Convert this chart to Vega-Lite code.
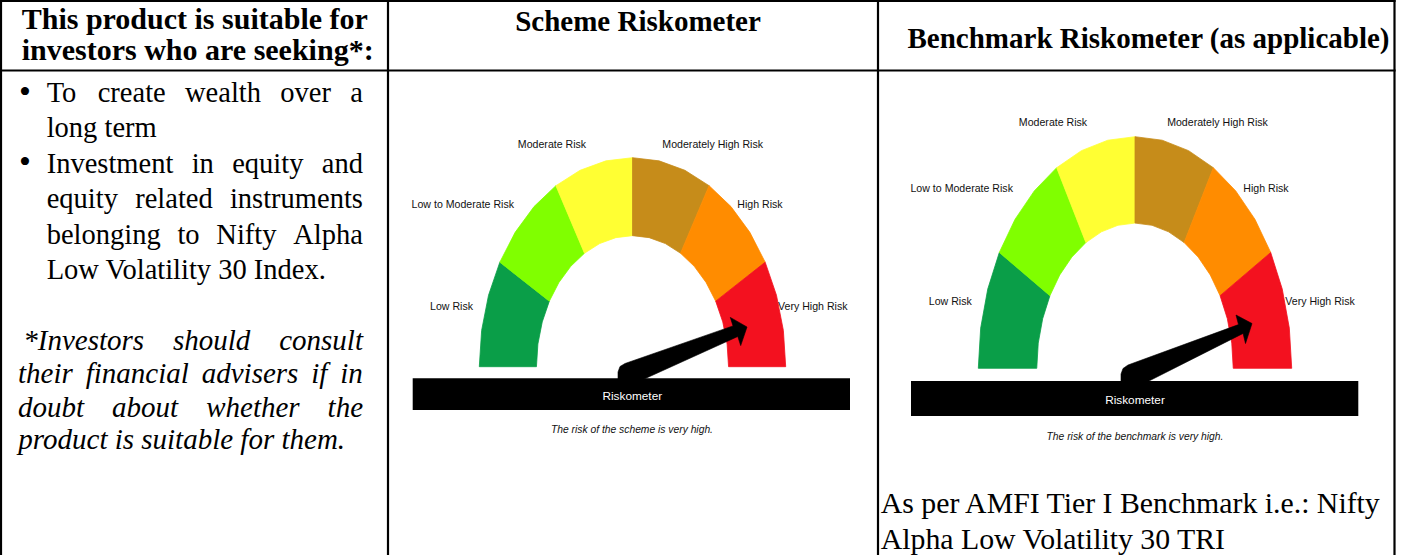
{
  "$schema": "https://vega.github.io/schema/vega-lite/v6.json",
  "width": 1405,
  "height": 555,
  "padding": 0,
  "autosize": {"type": "none"},
  "background": "white",
  "config": {"view": {"stroke": null}},
  "datasets": {
    "arcs": [
      {"seg": "Low", "i": 0, "u": -1, "v": 0},
      {"seg": "Low", "i": 1, "u": -0.9848, "v": 0.1736},
      {"seg": "Low", "i": 2, "u": -0.9397, "v": 0.342},
      {"seg": "Low", "i": 3, "u": -0.866, "v": 0.5},
      {"seg": "Low", "i": 4, "u": -0.543, "v": 0.3135},
      {"seg": "Low", "i": 5, "u": -0.5892, "v": 0.2144},
      {"seg": "Low", "i": 6, "u": -0.6175, "v": 0.1088},
      {"seg": "Low", "i": 7, "u": -0.627, "v": 0},
      {"seg": "Low to Moderate", "i": 0, "u": -0.866, "v": 0.5},
      {"seg": "Low to Moderate", "i": 1, "u": -0.766, "v": 0.6428},
      {"seg": "Low to Moderate", "i": 2, "u": -0.6428, "v": 0.766},
      {"seg": "Low to Moderate", "i": 3, "u": -0.5, "v": 0.866},
      {"seg": "Low to Moderate", "i": 4, "u": -0.3135, "v": 0.543},
      {"seg": "Low to Moderate", "i": 5, "u": -0.403, "v": 0.4803},
      {"seg": "Low to Moderate", "i": 6, "u": -0.4803, "v": 0.403},
      {"seg": "Low to Moderate", "i": 7, "u": -0.543, "v": 0.3135},
      {"seg": "Moderate", "i": 0, "u": -0.5, "v": 0.866},
      {"seg": "Moderate", "i": 1, "u": -0.342, "v": 0.9397},
      {"seg": "Moderate", "i": 2, "u": -0.1736, "v": 0.9848},
      {"seg": "Moderate", "i": 3, "u": 0, "v": 1},
      {"seg": "Moderate", "i": 4, "u": 0, "v": 0.627},
      {"seg": "Moderate", "i": 5, "u": -0.1088, "v": 0.6175},
      {"seg": "Moderate", "i": 6, "u": -0.2144, "v": 0.5892},
      {"seg": "Moderate", "i": 7, "u": -0.3135, "v": 0.543},
      {"seg": "Moderately High", "i": 0, "u": 0, "v": 1},
      {"seg": "Moderately High", "i": 1, "u": 0.1736, "v": 0.9848},
      {"seg": "Moderately High", "i": 2, "u": 0.342, "v": 0.9397},
      {"seg": "Moderately High", "i": 3, "u": 0.5, "v": 0.866},
      {"seg": "Moderately High", "i": 4, "u": 0.3135, "v": 0.543},
      {"seg": "Moderately High", "i": 5, "u": 0.2144, "v": 0.5892},
      {"seg": "Moderately High", "i": 6, "u": 0.1088, "v": 0.6175},
      {"seg": "Moderately High", "i": 7, "u": 0, "v": 0.627},
      {"seg": "High", "i": 0, "u": 0.5, "v": 0.866},
      {"seg": "High", "i": 1, "u": 0.6428, "v": 0.766},
      {"seg": "High", "i": 2, "u": 0.766, "v": 0.6428},
      {"seg": "High", "i": 3, "u": 0.866, "v": 0.5},
      {"seg": "High", "i": 4, "u": 0.543, "v": 0.3135},
      {"seg": "High", "i": 5, "u": 0.4803, "v": 0.403},
      {"seg": "High", "i": 6, "u": 0.403, "v": 0.4803},
      {"seg": "High", "i": 7, "u": 0.3135, "v": 0.543},
      {"seg": "Very High", "i": 0, "u": 0.866, "v": 0.5},
      {"seg": "Very High", "i": 1, "u": 0.9397, "v": 0.342},
      {"seg": "Very High", "i": 2, "u": 0.9848, "v": 0.1736},
      {"seg": "Very High", "i": 3, "u": 1, "v": 0},
      {"seg": "Very High", "i": 4, "u": 0.627, "v": 0},
      {"seg": "Very High", "i": 5, "u": 0.6175, "v": 0.1088},
      {"seg": "Very High", "i": 6, "u": 0.5892, "v": 0.2144},
      {"seg": "Very High", "i": 7, "u": 0.543, "v": 0.3135}
    ],
    "needles": [
      {"g": "scheme", "i": 0, "x": 618, "y": 380},
      {"g": "scheme", "i": 1, "x": 618, "y": 372},
      {"g": "scheme", "i": 2, "x": 620, "y": 366.5},
      {"g": "scheme", "i": 3, "x": 625, "y": 363.5},
      {"g": "scheme", "i": 4, "x": 733, "y": 325.9},
      {"g": "scheme", "i": 5, "x": 730.3, "y": 317.4},
      {"g": "scheme", "i": 6, "x": 747, "y": 327},
      {"g": "scheme", "i": 7, "x": 740.7, "y": 345.6},
      {"g": "scheme", "i": 8, "x": 737.8, "y": 336.5},
      {"g": "scheme", "i": 9, "x": 642, "y": 380},
      {"g": "bench", "i": 0, "x": 1121, "y": 383},
      {"g": "bench", "i": 1, "x": 1121, "y": 374},
      {"g": "bench", "i": 2, "x": 1123, "y": 368.5},
      {"g": "bench", "i": 3, "x": 1128, "y": 365},
      {"g": "bench", "i": 4, "x": 1238.5, "y": 324.6},
      {"g": "bench", "i": 5, "x": 1236, "y": 315},
      {"g": "bench", "i": 6, "x": 1252, "y": 323.5},
      {"g": "bench", "i": 7, "x": 1245.5, "y": 343.5},
      {"g": "bench", "i": 8, "x": 1243.1, "y": 333.4},
      {"g": "bench", "i": 9, "x": 1145, "y": 383}
    ],
    "bars": [
      {"g": "scheme", "x": 412.7, "x2": 850, "y": 378.3, "y2": 410},
      {"g": "bench", "x": 911, "x2": 1358.3, "y": 381, "y2": 416}
    ],
    "rules": [
      {"x": 1, "y": 0, "x2": 1, "y2": 555},
      {"x": 388, "y": 0, "x2": 388, "y2": 555},
      {"x": 878, "y": 0, "x2": 878, "y2": 555},
      {"x": 1394.5, "y": 0, "x2": 1394.5, "y2": 555},
      {"x": 0, "y": 1, "x2": 1395.6, "y2": 1},
      {"x": 0, "y": 70.5, "x2": 1395.6, "y2": 70.5}
    ],
    "texts": [
      {"role": "headLeft", "text": "This product is suitable for", "x": 21.7, "y": 29.3},
      {"role": "headLeft", "text": "investors who are seeking*:", "x": 21.7, "y": 60},
      {"role": "headCenter", "text": "Scheme Riskometer", "x": 638, "y": 30.7},
      {"role": "headCenter", "text": "Benchmark Riskometer (as applicable)", "x": 1148.5, "y": 48},
      {"role": "bullet", "text": "•", "x": 19, "y": 102.5},
      {"role": "body", "text": "To", "x": 46.7, "y": 101.7},
      {"role": "body", "text": "create", "x": 97.7, "y": 101.7},
      {"role": "body", "text": "wealth", "x": 185, "y": 101.7},
      {"role": "body", "text": "over", "x": 280.3, "y": 101.7},
      {"role": "body", "text": "a", "x": 350.2, "y": 101.7},
      {"role": "body", "text": "long term", "x": 46.7, "y": 137},
      {"role": "bullet", "text": "•", "x": 19, "y": 173.3},
      {"role": "body", "text": "Investment", "x": 46.7, "y": 172.5},
      {"role": "body", "text": "in", "x": 191.7, "y": 172.5},
      {"role": "body", "text": "equity", "x": 232.2, "y": 172.5},
      {"role": "body", "text": "and", "x": 321.8, "y": 172.5},
      {"role": "body", "text": "equity", "x": 46.7, "y": 208},
      {"role": "body", "text": "related", "x": 135.2, "y": 208},
      {"role": "body", "text": "instruments", "x": 229.9, "y": 208},
      {"role": "body", "text": "belonging", "x": 46.7, "y": 243.5},
      {"role": "body", "text": "to", "x": 177.4, "y": 243.5},
      {"role": "body", "text": "Nifty", "x": 216.3, "y": 243.5},
      {"role": "body", "text": "Alpha", "x": 293.2, "y": 243.5},
      {"role": "body", "text": "Low Volatility 30 Index.", "x": 46.7, "y": 279},
      {"role": "note", "text": "*Investors", "x": 23.3, "y": 350},
      {"role": "note", "text": "should", "x": 173, "y": 350},
      {"role": "note", "text": "consult", "x": 279.2, "y": 350},
      {"role": "note", "text": "their", "x": 18, "y": 383.3},
      {"role": "note", "text": "financial", "x": 85.7, "y": 383.3},
      {"role": "note", "text": "advisers", "x": 201.7, "y": 383.3},
      {"role": "note", "text": "if", "x": 311.3, "y": 383.3},
      {"role": "note", "text": "in", "x": 340.3, "y": 383.3},
      {"role": "note", "text": "doubt", "x": 18, "y": 416.7},
      {"role": "note", "text": "about", "x": 112.1, "y": 416.7},
      {"role": "note", "text": "whether", "x": 206.2, "y": 416.7},
      {"role": "note", "text": "the", "x": 327.6, "y": 416.7},
      {"role": "note", "text": "product is suitable for them.", "x": 18.3, "y": 449.3},
      {"role": "amfi", "text": "As per AMFI Tier I Benchmark i.e.: Nifty", "x": 880.7, "y": 513},
      {"role": "amfi", "text": "Alpha Low Volatility 30 TRI", "x": 880.7, "y": 548.5},
      {"role": "gauge", "text": "Moderate Risk", "x": 552, "y": 145},
      {"role": "gauge", "text": "Moderately High Risk", "x": 712.7, "y": 145},
      {"role": "gauge", "text": "Low to Moderate Risk", "x": 462.8, "y": 205},
      {"role": "gauge", "text": "High Risk", "x": 760, "y": 205},
      {"role": "gauge", "text": "Low Risk", "x": 451.5, "y": 306.7},
      {"role": "gauge", "text": "Very High Risk", "x": 812.8, "y": 306.7},
      {"role": "gauge", "text": "Moderate Risk", "x": 1053, "y": 122.7},
      {"role": "gauge", "text": "Moderately High Risk", "x": 1217.5, "y": 122.7},
      {"role": "gauge", "text": "Low to Moderate Risk", "x": 961.7, "y": 189},
      {"role": "gauge", "text": "High Risk", "x": 1266, "y": 189},
      {"role": "gauge", "text": "Low Risk", "x": 950.3, "y": 301.7},
      {"role": "gauge", "text": "Very High Risk", "x": 1320, "y": 301.7},
      {"role": "meter", "text": "Riskometer", "x": 632.3, "y": 395.7},
      {"role": "meter", "text": "Riskometer", "x": 1135, "y": 400},
      {"role": "caption", "text": "The risk of the scheme is very high.", "x": 632, "y": 430},
      {"role": "caption", "text": "The risk of the benchmark is very high.", "x": 1135, "y": 437.3}
    ]
  },
  "layer": [
    {
      "data": {"name": "arcs"},
      "mark": {"type": "line", "interpolate": "linear-closed", "strokeWidth": 0.8},
      "encoding": {
        "x": {"field": "u", "type": "quantitative", "scale": {"domain": [-4.1286, 5.0424], "nice": false, "zero": false}, "axis": null},
        "y": {"field": "v", "type": "quantitative", "scale": {"domain": [-0.901, 1.7545], "nice": false, "zero": false}, "axis": null},
        "order": {"field": "i", "type": "quantitative"},
        "detail": {"field": "seg", "type": "nominal"},
        "fill": {"field": "seg", "type": "nominal", "legend": null, "scale": {"domain": ["Low", "Low to Moderate", "Moderate", "Moderately High", "High", "Very High"], "range": ["#0a9e48", "#80ff00", "#ffff33", "#c68c1a", "#ff8c00", "#f3111f"]}},
        "stroke": {"field": "seg", "type": "nominal", "legend": null, "scale": {"domain": ["Low", "Low to Moderate", "Moderate", "Moderately High", "High", "Very High"], "range": ["#0a9e48", "#80ff00", "#ffff33", "#c68c1a", "#ff8c00", "#f3111f"]}}
      }
    },
    {
      "data": {"name": "arcs"},
      "mark": {"type": "line", "interpolate": "linear-closed", "strokeWidth": 0.8},
      "encoding": {
        "x": {"field": "u", "type": "quantitative", "scale": {"domain": [-7.2431, 1.723], "nice": false, "zero": false}, "axis": null},
        "y": {"field": "v", "type": "quantitative", "scale": {"domain": [-0.8061, 1.5902], "nice": false, "zero": false}, "axis": null},
        "order": {"field": "i", "type": "quantitative"},
        "detail": {"field": "seg", "type": "nominal"},
        "fill": {"field": "seg", "type": "nominal", "legend": null, "scale": {"domain": ["Low", "Low to Moderate", "Moderate", "Moderately High", "High", "Very High"], "range": ["#0a9e48", "#80ff00", "#ffff33", "#c68c1a", "#ff8c00", "#f3111f"]}},
        "stroke": {"field": "seg", "type": "nominal", "legend": null, "scale": {"domain": ["Low", "Low to Moderate", "Moderate", "Moderately High", "High", "Very High"], "range": ["#0a9e48", "#80ff00", "#ffff33", "#c68c1a", "#ff8c00", "#f3111f"]}}
      }
    },
    {
      "layer": [
        {
          "data": {"name": "rules"},
          "mark": {"type": "rule", "strokeWidth": 2.2, "color": "black"},
          "encoding": {
            "x": {"field": "x", "type": "quantitative", "scale": {"domain": [0, 1405], "nice": false, "zero": false}, "axis": null},
            "y": {"field": "y", "type": "quantitative", "scale": {"domain": [0, 555], "reverse": true, "nice": false, "zero": false}, "axis": null},
            "x2": {"field": "x2"},
            "y2": {"field": "y2"}
          }
        },
        {
          "data": {"name": "needles"},
          "mark": {"type": "line", "interpolate": "linear-closed", "strokeWidth": 0.6},
          "encoding": {
            "x": {"field": "x", "type": "quantitative", "scale": {"domain": [0, 1405], "nice": false, "zero": false}, "axis": null},
            "y": {"field": "y", "type": "quantitative", "scale": {"domain": [0, 555], "reverse": true, "nice": false, "zero": false}, "axis": null},
            "order": {"field": "i", "type": "quantitative"},
            "detail": {"field": "g", "type": "nominal"},
            "fill": {"value": "black"},
            "stroke": {"value": "black"}
          }
        },
        {
          "data": {"name": "bars"},
          "mark": {"type": "rect", "color": "black"},
          "encoding": {
            "x": {"field": "x", "type": "quantitative", "scale": {"domain": [0, 1405], "nice": false, "zero": false}, "axis": null},
            "y": {"field": "y", "type": "quantitative", "scale": {"domain": [0, 555], "reverse": true, "nice": false, "zero": false}, "axis": null},
            "x2": {"field": "x2"},
            "y2": {"field": "y2"}
          }
        },
        {
          "data": {"name": "texts"},
          "transform": [{"filter": "datum.role === 'headLeft'"}],
          "mark": {"type": "text", "font": "Liberation Serif", "fontWeight": "bold", "fontSize": 30, "align": "left", "baseline": "alphabetic", "color": "black"},
          "encoding": {
            "x": {"field": "x", "type": "quantitative", "scale": {"domain": [0, 1405], "nice": false, "zero": false}, "axis": null},
            "y": {"field": "y", "type": "quantitative", "scale": {"domain": [0, 555], "reverse": true, "nice": false, "zero": false}, "axis": null},
            "text": {"field": "text"}
          }
        },
        {
          "data": {"name": "texts"},
          "transform": [{"filter": "datum.role === 'headCenter'"}],
          "mark": {"type": "text", "font": "Liberation Serif", "fontWeight": "bold", "fontSize": 29, "align": "center", "baseline": "alphabetic", "color": "black"},
          "encoding": {
            "x": {"field": "x", "type": "quantitative", "scale": {"domain": [0, 1405], "nice": false, "zero": false}, "axis": null},
            "y": {"field": "y", "type": "quantitative", "scale": {"domain": [0, 555], "reverse": true, "nice": false, "zero": false}, "axis": null},
            "text": {"field": "text"}
          }
        },
        {
          "data": {"name": "texts"},
          "transform": [{"filter": "datum.role === 'bullet'"}],
          "mark": {"type": "text", "font": "Liberation Serif", "fontSize": 34, "align": "left", "baseline": "alphabetic", "color": "black"},
          "encoding": {
            "x": {"field": "x", "type": "quantitative", "scale": {"domain": [0, 1405], "nice": false, "zero": false}, "axis": null},
            "y": {"field": "y", "type": "quantitative", "scale": {"domain": [0, 555], "reverse": true, "nice": false, "zero": false}, "axis": null},
            "text": {"field": "text"}
          }
        },
        {
          "data": {"name": "texts"},
          "transform": [{"filter": "datum.role === 'body'"}],
          "mark": {"type": "text", "font": "Liberation Serif", "fontSize": 28.5, "align": "left", "baseline": "alphabetic", "color": "black"},
          "encoding": {
            "x": {"field": "x", "type": "quantitative", "scale": {"domain": [0, 1405], "nice": false, "zero": false}, "axis": null},
            "y": {"field": "y", "type": "quantitative", "scale": {"domain": [0, 555], "reverse": true, "nice": false, "zero": false}, "axis": null},
            "text": {"field": "text"}
          }
        },
        {
          "data": {"name": "texts"},
          "transform": [{"filter": "datum.role === 'note'"}],
          "mark": {"type": "text", "font": "Liberation Serif", "fontStyle": "italic", "fontSize": 29, "align": "left", "baseline": "alphabetic", "color": "black"},
          "encoding": {
            "x": {"field": "x", "type": "quantitative", "scale": {"domain": [0, 1405], "nice": false, "zero": false}, "axis": null},
            "y": {"field": "y", "type": "quantitative", "scale": {"domain": [0, 555], "reverse": true, "nice": false, "zero": false}, "axis": null},
            "text": {"field": "text"}
          }
        },
        {
          "data": {"name": "texts"},
          "transform": [{"filter": "datum.role === 'amfi'"}],
          "mark": {"type": "text", "font": "Liberation Serif", "fontSize": 29.8, "align": "left", "baseline": "alphabetic", "color": "black"},
          "encoding": {
            "x": {"field": "x", "type": "quantitative", "scale": {"domain": [0, 1405], "nice": false, "zero": false}, "axis": null},
            "y": {"field": "y", "type": "quantitative", "scale": {"domain": [0, 555], "reverse": true, "nice": false, "zero": false}, "axis": null},
            "text": {"field": "text"}
          }
        },
        {
          "data": {"name": "texts"},
          "transform": [{"filter": "datum.role === 'gauge'"}],
          "mark": {"type": "text", "font": "Liberation Sans", "fontSize": 10.6, "align": "center", "baseline": "middle", "color": "#111111"},
          "encoding": {
            "x": {"field": "x", "type": "quantitative", "scale": {"domain": [0, 1405], "nice": false, "zero": false}, "axis": null},
            "y": {"field": "y", "type": "quantitative", "scale": {"domain": [0, 555], "reverse": true, "nice": false, "zero": false}, "axis": null},
            "text": {"field": "text"}
          }
        },
        {
          "data": {"name": "texts"},
          "transform": [{"filter": "datum.role === 'meter'"}],
          "mark": {"type": "text", "font": "Liberation Sans", "fontSize": 11.8, "align": "center", "baseline": "middle", "color": "white"},
          "encoding": {
            "x": {"field": "x", "type": "quantitative", "scale": {"domain": [0, 1405], "nice": false, "zero": false}, "axis": null},
            "y": {"field": "y", "type": "quantitative", "scale": {"domain": [0, 555], "reverse": true, "nice": false, "zero": false}, "axis": null},
            "text": {"field": "text"}
          }
        },
        {
          "data": {"name": "texts"},
          "transform": [{"filter": "datum.role === 'caption'"}],
          "mark": {"type": "text", "font": "Liberation Sans", "fontStyle": "italic", "fontSize": 10.3, "align": "center", "baseline": "middle", "color": "#111111"},
          "encoding": {
            "x": {"field": "x", "type": "quantitative", "scale": {"domain": [0, 1405], "nice": false, "zero": false}, "axis": null},
            "y": {"field": "y", "type": "quantitative", "scale": {"domain": [0, 555], "reverse": true, "nice": false, "zero": false}, "axis": null},
            "text": {"field": "text"}
          }
        }
      ]
    }
  ],
  "resolve": {"scale": {"x": "independent", "y": "independent"}}
}
